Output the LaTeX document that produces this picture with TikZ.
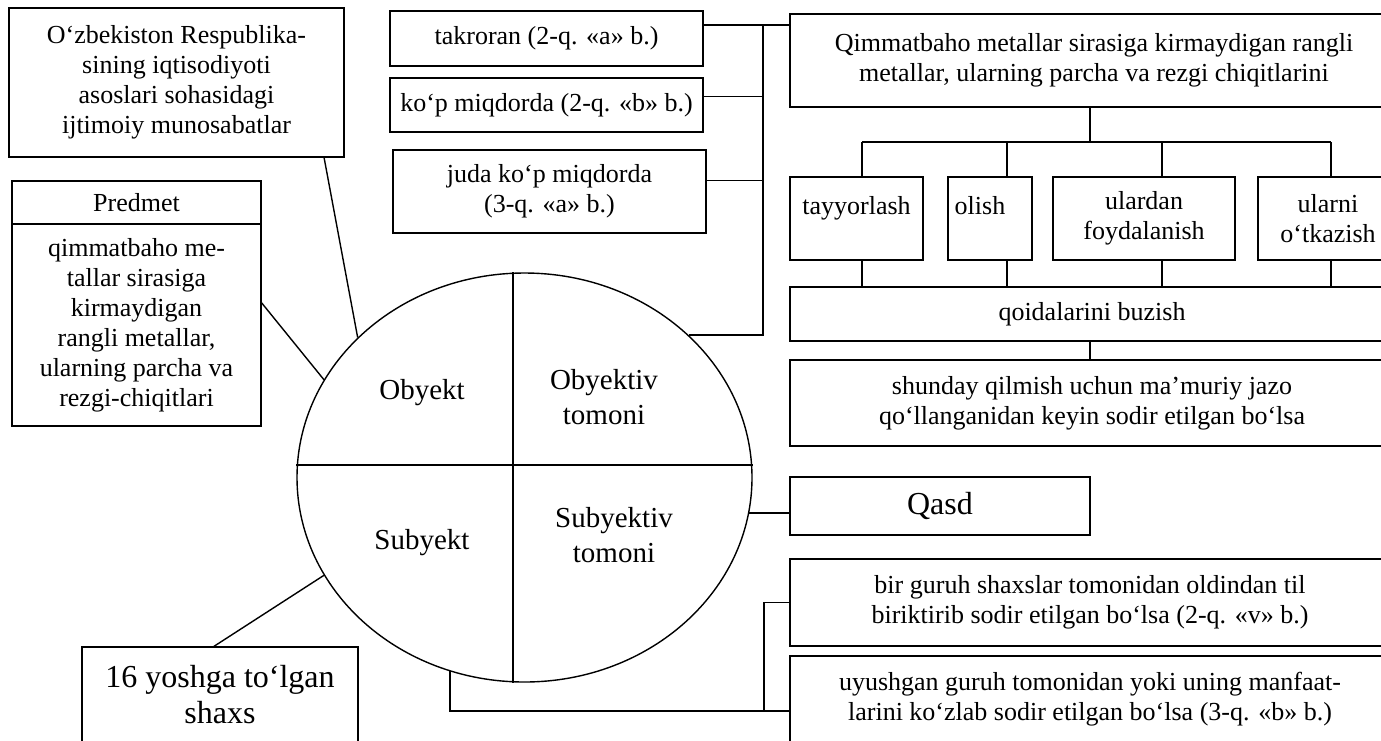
\documentclass[tikz,border=0pt]{standalone}
\usepackage{fontspec}
\setmainfont{Liberation Serif}
\usetikzlibrary{positioning,shapes.geometric}

\begin{document}
\begin{tikzpicture}[
  x=0.5pt, y=-0.5pt, line width=0.7pt,
  font=\fontsize{13}{15}\selectfont,
  box/.style={rectangle, draw, align=center},
  big/.style={font=\fontsize{16}{18}\selectfont},
  sector/.style={align=center, font=\fontsize{14.5}{17.5}\selectfont},
  hightext/.style={text height=0.7em, text depth=1.15em}
]
\useasboundingbox (0,0) rectangle (1381,740);
\clip (0,0) rectangle (1381,740);

% left side
\node[box, minimum width=167.5pt, minimum height=74.5pt] (osnova) at (176.5,82.5)
  {O‘zbekiston Respublika-\\sining iqtisodiyoti\\asoslari sohasidagi\\ijtimoiy munosabatlar};
\node[box, minimum width=124.5pt, minimum height=21.5pt] (phead) at (136.5,202.5) {Predmet};
\node[box, minimum width=124.5pt, minimum height=101pt] (pbody) at (136.5,325)
  {qimmatbaho me-\\tallar sirasiga\\kirmaydigan\\rangli metallar,\\ularning parcha va\\rezgi-chiqitlari};
\node[box, big, minimum width=138pt, minimum height=48pt] (sh16) at (220,695) {16 yoshga to‘lgan\\shaxs};

% the oval
\node[ellipse, draw, minimum width=227.5pt, minimum height=204.5pt, inner sep=0pt] (oval) at (524.5,477.5) {};
\coordinate (mid) at (513,465);
\draw (oval.north -| mid) -- (oval.south -| mid);
\draw (oval.west |- mid) -- (oval.east |- mid);
\node[sector] (obyekt) at (422,393) {Obyekt};
\node[sector] (obtom) at (604,397) {Obyektiv\\tomoni};
\node[sector] (subyekt) at (422,543) {Subyekt};
\node[sector] (subtom) at (614,535) {Subyektiv\\tomoni};

% middle column
\node[box, minimum width=156.5pt, minimum height=27.5pt] (takroran) at (546.5,38.5) {takroran (2-q. «a» b.)};
\node[box, minimum width=156.5pt, minimum height=27pt] (kop) at (546.5,105) {ko‘p miqdorda (2-q. «b» b.)};
\node[box, minimum width=156.5pt, minimum height=41.5pt] (juda) at (549.5,191.5) {juda ko‘p miqdorda\\(3-q. «a» b.)};

% right side
\node[box, minimum width=304pt, minimum height=46.5pt] (qimmat) at (1094,60.5)
  {Qimmatbaho metallar sirasiga kirmaydigan rangli\\metallar, ularning parcha va rezgi chiqitlarini};
\node[box, hightext, minimum width=66.5pt, minimum height=41.5pt] (tayyor) at (856.5,218.5) {tayyorlash};
\node[box, hightext, align=left, text width=35.3pt, minimum height=41.5pt] (olish) at (990,218.5) {olish};
\node[box, minimum width=91pt, minimum height=41.5pt] (ulardan) at (1144,218.5) {ulardan\\foydalanish};
\node[box, minimum width=70pt, minimum height=41.5pt] (ularni) at (1328,218.5) {ularni\\o‘tkazish};
\node[box, minimum width=302pt, minimum height=27pt] (buzish) at (1092,314) {qoidalarini buzish};
\node[box, minimum width=302pt, minimum height=43pt] (shunday) at (1092,403)
  {shunday qilmish uchun ma’muriy jazo\\qo‘llanganidan keyin sodir etilgan bo‘lsa};
\node[box, big, minimum width=150pt, minimum height=29pt] (qasd) at (940,506) {Qasd};
\node[box, minimum width=300pt, minimum height=43.5pt] (birg) at (1090,602.5)
  {bir guruh shaxslar tomonidan oldindan til\\biriktirib sodir etilgan bo‘lsa (2-q. «v» b.)};
\node[box, minimum width=300pt, minimum height=43pt] (uyush) at (1090,699)
  {uyushgan guruh tomonidan yoki uning manfaat-\\larini ko‘zlab sodir etilgan bo‘lsa (3-q. «b» b.)};

% connectors
\draw (osnova.-27) -- (oval.140);
\draw (pbody.10) -- (oval.154);
\draw (sh16.97) -- (oval.206);

\coordinate (hub) at (763,25);
\draw (takroran.east |- hub) -- (qimmat.west |- hub);
\draw (kop.3) -- (kop.3 -| hub);
\draw (juda.4) -- (juda.4 -| hub);
\draw (hub) |- (oval.41);

\coordinate (bar) at (1090,142);
\draw (qimmat.south -| bar) -- (bar);
\foreach \n/\x in {tayyor/862, olish/1007, ulardan/1162, ularni/1331}{
  \coordinate (t-\n) at (\x,142);
  \draw (t-\n) -- (\n.north -| t-\n);
  \draw (\n.south -| t-\n) -- (buzish.north -| t-\n);
}
\draw (t-tayyor) -- (t-ularni);
\draw (buzish.south -| bar) -- (shunday.north -| bar);

\draw (oval.351) -- (qasd.west |- oval.351);

\coordinate (jn) at (764,711);
\draw (oval.249) |- (uyush.west |- jn);
\draw (jn) |- (birg.west);
\end{tikzpicture}
\end{document}
